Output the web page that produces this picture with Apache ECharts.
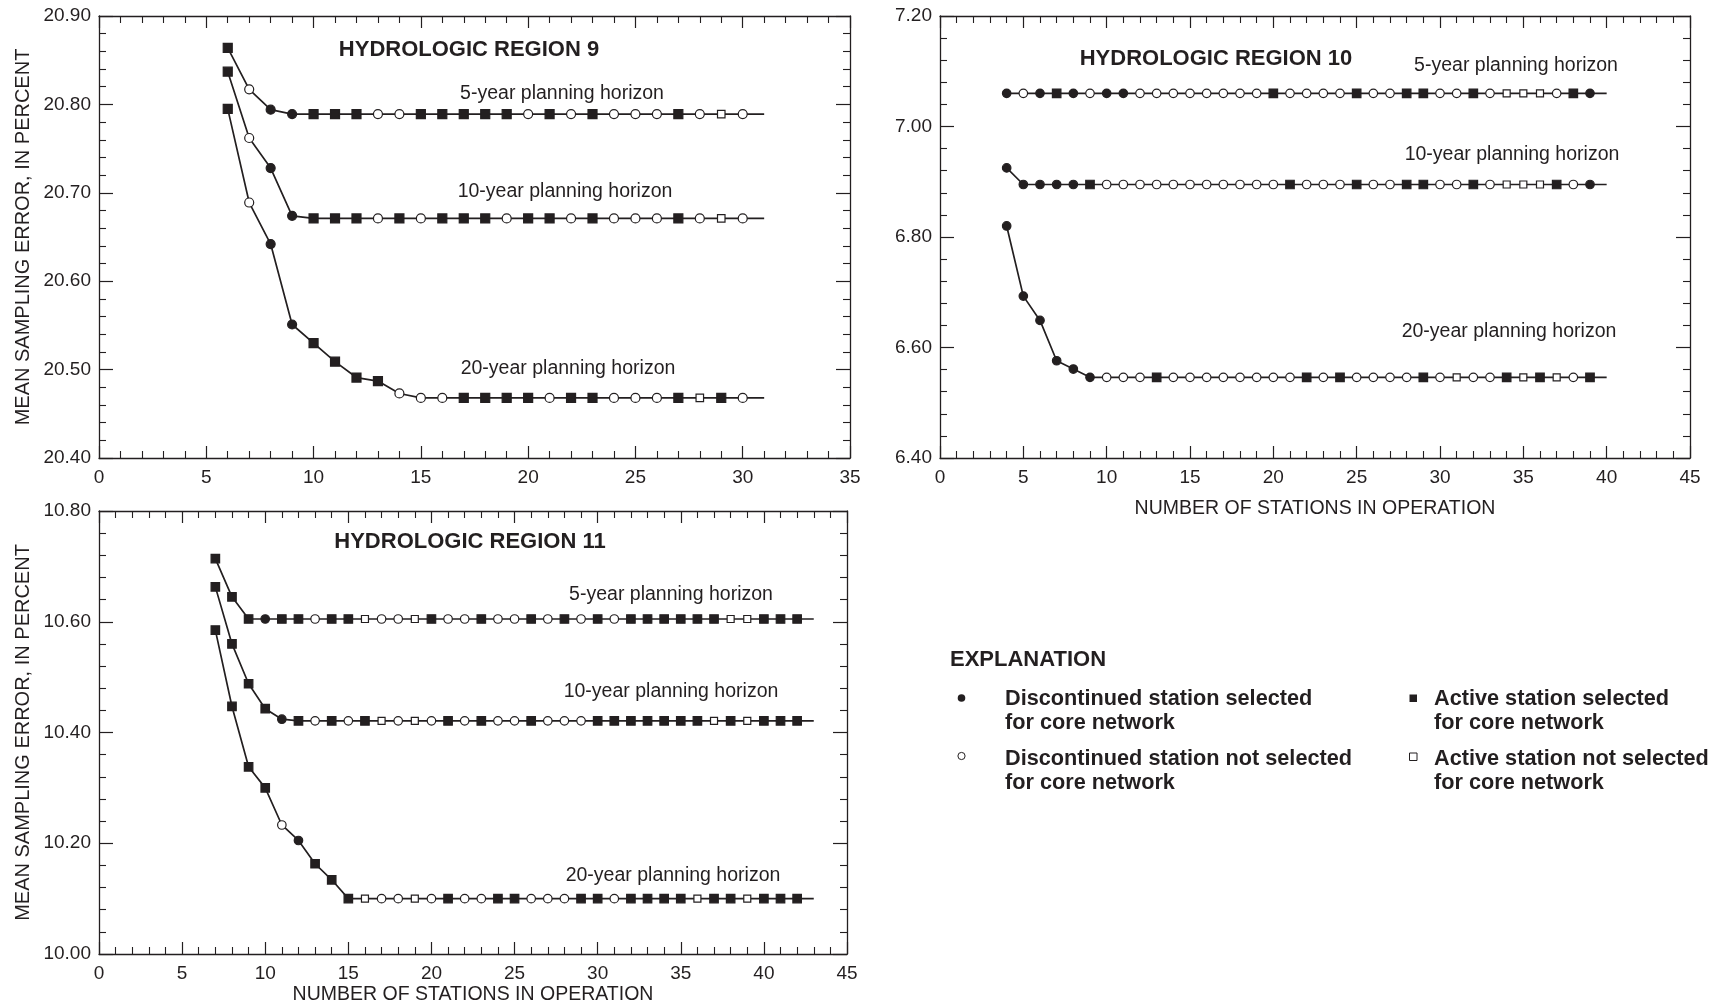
<!DOCTYPE html>
<html>
<head>
<meta charset="utf-8">
<title>Mean sampling error and number of stations</title>
<script src="https://cdn.jsdelivr.net/npm/echarts@6/dist/echarts.min.js"></script>
<style>
  html, body { margin: 0; padding: 0; background: #fff; }
  #chart { width: 1719px; height: 1007px; }
</style>
</head>
<body>
<div id="chart"></div>
<script>
// marker codes: D = discontinued selected, d = discontinued not selected,
// A = active selected, a = active not selected, - = line end without marker

// Hydrologic region 9
const r9Stations = [6, 7, 8, 9, 10, 11, 12, 13, 14, 15,
  16, 17, 18, 19, 20, 21, 22, 23, 24, 25,
  26, 27, 28, 29, 30, 31];
const r9Error5 = [20.864, 20.817, 20.794, 20.789, 20.789, 20.789, 20.789, 20.789, 20.789, 20.789,
  20.789, 20.789, 20.789, 20.789, 20.789, 20.789, 20.789, 20.789, 20.789, 20.789,
  20.789, 20.789, 20.789, 20.789, 20.789, 20.789];
const r9Error10 = [20.837, 20.762, 20.728, 20.674, 20.671, 20.671, 20.671, 20.671, 20.671, 20.671,
  20.671, 20.671, 20.671, 20.671, 20.671, 20.671, 20.671, 20.671, 20.671, 20.671,
  20.671, 20.671, 20.671, 20.671, 20.671, 20.671];
const r9Error20 = [20.795, 20.689, 20.642, 20.551, 20.530, 20.509, 20.491, 20.487, 20.473, 20.468,
  20.468, 20.468, 20.468, 20.468, 20.468, 20.468, 20.468, 20.468, 20.468, 20.468,
  20.468, 20.468, 20.468, 20.468, 20.468, 20.468];
const r9Marks5 = 'AdDDAAAddA' + 'AAAAdAdAdd' + 'dAdad-';
const r9Marks10 = 'AdDDAAAdAd' + 'AAAdAAdAdd' + 'dAdad-';
const r9Marks20 = 'AdDDAAAAdd' + 'dAAAAdAAdd' + 'dAaAd-';

// Hydrologic region 10
const r10Stations = [4, 5, 6, 7, 8, 9, 10, 11, 12, 13,
  14, 15, 16, 17, 18, 19, 20, 21, 22, 23,
  24, 25, 26, 27, 28, 29, 30, 31, 32, 33,
  34, 35, 36, 37, 38, 39, 40];
const r10Error5 = [7.060, 7.060, 7.060, 7.060, 7.060, 7.060, 7.060, 7.060, 7.060, 7.060,
  7.060, 7.060, 7.060, 7.060, 7.060, 7.060, 7.060, 7.060, 7.060, 7.060,
  7.060, 7.060, 7.060, 7.060, 7.060, 7.060, 7.060, 7.060, 7.060, 7.060,
  7.060, 7.060, 7.060, 7.060, 7.060, 7.060, 7.060];
const r10Error10 = [6.925, 6.895, 6.895, 6.895, 6.895, 6.895, 6.895, 6.895, 6.895, 6.895,
  6.895, 6.895, 6.895, 6.895, 6.895, 6.895, 6.895, 6.895, 6.895, 6.895,
  6.895, 6.895, 6.895, 6.895, 6.895, 6.895, 6.895, 6.895, 6.895, 6.895,
  6.895, 6.895, 6.895, 6.895, 6.895, 6.895, 6.895];
const r10Error20 = [6.820, 6.693, 6.649, 6.576, 6.561, 6.546, 6.546, 6.546, 6.546, 6.546,
  6.546, 6.546, 6.546, 6.546, 6.546, 6.546, 6.546, 6.546, 6.546, 6.546,
  6.546, 6.546, 6.546, 6.546, 6.546, 6.546, 6.546, 6.546, 6.546, 6.546,
  6.546, 6.546, 6.546, 6.546, 6.546, 6.546, 6.546];
const r10Marks5 = 'DdDADdDDdd' + 'ddddddAddd' + 'dAddAAddAd' + 'aaadAD-';
const r10Marks10 = 'DDDDDAdddd' + 'dddddddAdd' + 'dAddAAddAd' + 'aaaAdD-';
const r10Marks20 = 'DDDDDDdddA' + 'ddddddddAd' + 'AddddAdadd' + 'AaAadA-';

// Hydrologic region 11
const r11Stations = [7, 8, 9, 10, 11, 12, 13, 14, 15, 16,
  17, 18, 19, 20, 21, 22, 23, 24, 25, 26,
  27, 28, 29, 30, 31, 32, 33, 34, 35, 36,
  37, 38, 39, 40, 41, 42, 43];
const r11Error5 = [10.714, 10.645, 10.605, 10.605, 10.605, 10.605, 10.605, 10.605, 10.605, 10.605,
  10.605, 10.605, 10.605, 10.605, 10.605, 10.605, 10.605, 10.605, 10.605, 10.605,
  10.605, 10.605, 10.605, 10.605, 10.605, 10.605, 10.605, 10.605, 10.605, 10.605,
  10.605, 10.605, 10.605, 10.605, 10.605, 10.605, 10.605];
const r11Error10 = [10.663, 10.560, 10.488, 10.443, 10.424, 10.421, 10.421, 10.421, 10.421, 10.421,
  10.421, 10.421, 10.421, 10.421, 10.421, 10.421, 10.421, 10.421, 10.421, 10.421,
  10.421, 10.421, 10.421, 10.421, 10.421, 10.421, 10.421, 10.421, 10.421, 10.421,
  10.421, 10.421, 10.421, 10.421, 10.421, 10.421, 10.421];
const r11Error20 = [10.585, 10.447, 10.338, 10.300, 10.233, 10.205, 10.163, 10.134, 10.100, 10.100,
  10.100, 10.100, 10.100, 10.100, 10.100, 10.100, 10.100, 10.100, 10.100, 10.100,
  10.100, 10.100, 10.100, 10.100, 10.100, 10.100, 10.100, 10.100, 10.100, 10.100,
  10.100, 10.100, 10.100, 10.100, 10.100, 10.100, 10.100];
const r11Marks5 = 'AAADAAdAAa' + 'ddaAddAddA' + 'dAdAdAAAAA' + 'AaaAAA-';
const r11Marks10 = 'AAAADAdAdA' + 'adadAdAddA' + 'dddAAAAAAA' + 'aAaAAA-';
const r11Marks20 = 'AAAAdDAAAa' + 'ddadAddAAd' + 'ddAAdAAAAa' + 'AAaAAA-';

const horizons = ['5-year planning horizon', '10-year planning horizon', '20-year planning horizon'];
const legendLabels = [
  ['Discontinued station selected', 'for core network'],
  ['Discontinued station not selected', 'for core network'],
  ['Active station selected', 'for core network'],
  ['Active station not selected', 'for core network']
];

const ink = '#231f20';
const family = '"Liberation Sans", Arial, Helvetica, sans-serif';

const MARKS = {
  D: { symbol: 'circle', fill: ink },
  d: { symbol: 'circle', fill: '#fff' },
  A: { symbol: 'rect', fill: ink },
  a: { symbol: 'rect', fill: '#fff' },
  '-': { symbol: 'none', fill: ink }
};

function stationSeries(name, stations, values, marks, g, size) {
  const data = stations.map((s, i) => {
    const m = MARKS[marks[i]];
    return {
      value: [s, values[i]],
      symbol: m.symbol,
      symbolSize: marks[i] === 'a' ? size - 1.5 : size,
      itemStyle: { color: m.fill, borderColor: ink, borderWidth: 1.2 }
    };
  });
  return {
    name: name, type: 'line', xAxisIndex: 2 * g, yAxisIndex: 2 * g,
    data: data, showSymbol: true, showAllSymbol: true, silent: true,
    lineStyle: { color: ink, width: 1.7 },
    emphasis: { disabled: true }, z: 3
  };
}

function xAxes(g, max, name, nameGap) {
  const base = {
    type: 'value', gridIndex: g, min: 0, max: max, interval: 5,
    axisLine: { show: true, onZero: false, lineStyle: { color: ink, width: 1.3 } },
    axisTick: { show: true, inside: true, length: 12, lineStyle: { color: ink, width: 1.2 } },
    minorTick: { show: true, splitNumber: 5, length: 7, lineStyle: { color: ink, width: 1.1 } },
    splitLine: { show: false }, minorSplitLine: { show: false }
  };
  return [
    Object.assign({}, base, {
      position: 'bottom',
      axisLabel: { color: ink, fontSize: 19, fontFamily: family, margin: 10 },
      name: name, nameLocation: 'middle', nameGap: nameGap,
      nameTextStyle: { color: ink, fontSize: 19.5, fontFamily: family }
    }),
    Object.assign({}, base, { position: 'top', axisLabel: { show: false } })
  ];
}

function yAxes(g, min, max, step, name) {
  const base = {
    type: 'value', gridIndex: g, min: min, max: max, interval: step,
    axisLine: { show: true, onZero: false, lineStyle: { color: ink, width: 1.3 } },
    axisTick: { show: true, inside: true, length: 14, lineStyle: { color: ink, width: 1.2 } },
    minorTick: { show: true, splitNumber: 5, length: 7, lineStyle: { color: ink, width: 1.1 } },
    splitLine: { show: false }, minorSplitLine: { show: false }
  };
  return [
    Object.assign({}, base, {
      position: 'left',
      axisLabel: { color: ink, fontSize: 19, fontFamily: family, margin: 8,
        formatter: v => v.toFixed(2) },
      name: name, nameLocation: 'middle', nameGap: 66,
      nameTextStyle: { color: ink, fontSize: 20, fontFamily: family }
    }),
    Object.assign({}, base, { position: 'right', axisLabel: { show: false } })
  ];
}

function label(text, cx, cy, size, weight, align) {
  return {
    type: 'text', x: cx, y: cy, silent: true,
    style: {
      text: text, fill: ink,
      font: (weight || 'normal') + ' ' + size + 'px ' + family,
      textAlign: align || 'center', textVerticalAlign: 'middle',
      align: align || 'center', verticalAlign: 'middle'
    }
  };
}

const yTitle = 'MEAN SAMPLING ERROR, IN PERCENT';
const xTitle = 'NUMBER OF STATIONS IN OPERATION';

const x9 = xAxes(0, 35, '', 0);
const x10 = xAxes(1, 45, xTitle, 41);
const x11 = xAxes(2, 45, xTitle, 31);
const y9 = yAxes(0, 20.4, 20.9, 0.1, yTitle);
const y10 = yAxes(1, 6.4, 7.2, 0.2, '');
const y11 = yAxes(2, 10.0, 10.8, 0.2, yTitle);

const graphics = [
  label('HYDROLOGIC REGION 9', 469, 50, 22, 'bold'),
  label('HYDROLOGIC REGION 10', 1216, 59, 22, 'bold'),
  label('HYDROLOGIC REGION 11', 470, 542, 22, 'bold'),
  label(horizons[0], 562, 94, 19.5),
  label(horizons[1], 565, 192, 19.5),
  label(horizons[2], 568, 369, 19.5),
  label(horizons[0], 1516, 66, 19.5),
  label(horizons[1], 1512, 155, 19.5),
  label(horizons[2], 1509, 332, 19.5),
  label(horizons[0], 671, 595, 19.5),
  label(horizons[1], 671, 692, 19.5),
  label(horizons[2], 673, 876, 19.5),
  label('EXPLANATION', 950, 660, 22, 'bold', 'left'),
  // legend keys
  { type: 'circle', shape: { cx: 961.5, cy: 698, r: 3.8 }, style: { fill: ink } },
  { type: 'circle', shape: { cx: 961.5, cy: 756, r: 3.6 }, style: { fill: '#fff', stroke: ink, lineWidth: 1 } },
  { type: 'rect', shape: { x: 1409.5, y: 694.5, width: 7.5, height: 7.5 }, style: { fill: ink } },
  { type: 'rect', shape: { x: 1409.5, y: 753, width: 7.5, height: 7.5 }, style: { fill: '#fff', stroke: ink, lineWidth: 1 } },
  label(legendLabels[0][0], 1005, 699, 21.7, 'bold', 'left'),
  label(legendLabels[0][1], 1005, 723, 21.7, 'bold', 'left'),
  label(legendLabels[1][0], 1005, 759, 21.7, 'bold', 'left'),
  label(legendLabels[1][1], 1005, 783, 21.7, 'bold', 'left'),
  label(legendLabels[2][0], 1434, 699, 21.7, 'bold', 'left'),
  label(legendLabels[2][1], 1434, 723, 21.7, 'bold', 'left'),
  label(legendLabels[3][0], 1434, 759, 21.7, 'bold', 'left'),
  label(legendLabels[3][1], 1434, 783, 21.7, 'bold', 'left')
];

const chart = echarts.init(document.getElementById('chart'));
chart.setOption({
  backgroundColor: '#fff',
  animation: false,
  textStyle: { fontFamily: family, color: ink },
  grid: [
    { left: 99, top: 16, width: 751, height: 442 },
    { left: 940, top: 16, width: 750, height: 442 },
    { left: 99, top: 511, width: 748, height: 443 }
  ],
  xAxis: [x9[0], x9[1], x10[0], x10[1], x11[0], x11[1]],
  yAxis: [y9[0], y9[1], y10[0], y10[1], y11[0], y11[1]],
  series: [
    stationSeries(horizons[0], r9Stations, r9Error5, r9Marks5, 0, 9),
    stationSeries(horizons[1], r9Stations, r9Error10, r9Marks10, 0, 9),
    stationSeries(horizons[2], r9Stations, r9Error20, r9Marks20, 0, 9),
    stationSeries(horizons[0], r10Stations, r10Error5, r10Marks5, 1, 8.5),
    stationSeries(horizons[1], r10Stations, r10Error10, r10Marks10, 1, 8.5),
    stationSeries(horizons[2], r10Stations, r10Error20, r10Marks20, 1, 8.5),
    stationSeries(horizons[0], r11Stations, r11Error5, r11Marks5, 2, 8.5),
    stationSeries(horizons[1], r11Stations, r11Error10, r11Marks10, 2, 8.5),
    stationSeries(horizons[2], r11Stations, r11Error20, r11Marks20, 2, 8.5)
  ],
  graphic: graphics
});
</script>
</body>
</html>
